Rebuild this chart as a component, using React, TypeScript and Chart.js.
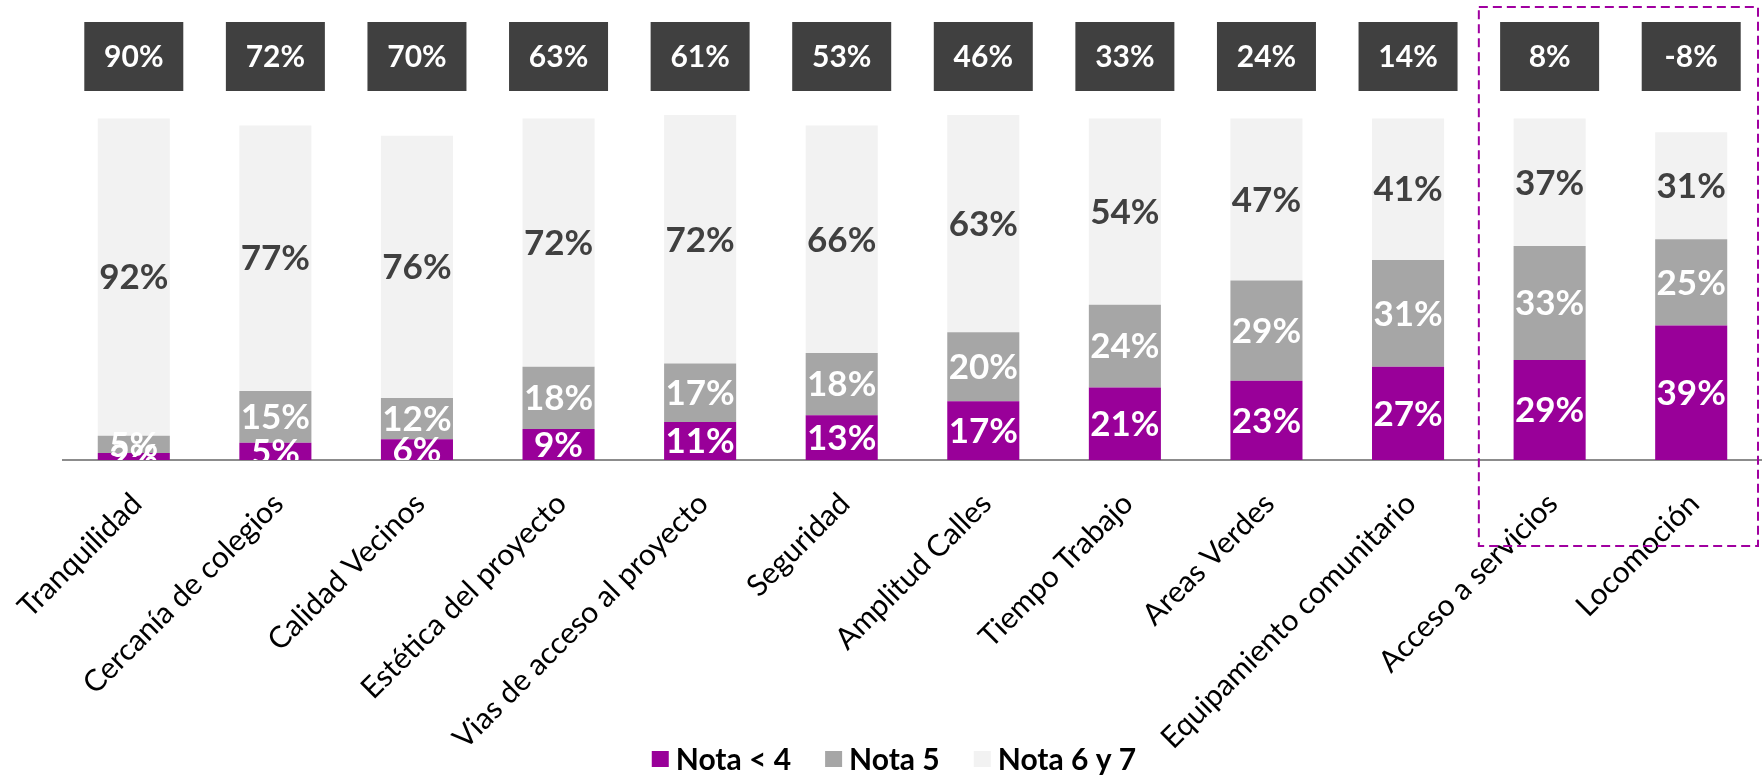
import React, { useEffect, useRef } from "react";
import { Chart, registerables } from "chart.js";

Chart.register(...registerables);

const categories = [
  "Tranquilidad",
  "Cercanía de colegios",
  "Calidad Vecinos",
  "Estética del proyecto",
  "Vias de acceso al proyecto",
  "Seguridad",
  "Amplitud Calles",
  "Tiempo Trabajo",
  "Areas Verdes",
  "Equipamiento comunitario",
  "Acceso a servicios",
  "Locomoción",
];
const nota4 = [2, 5, 6, 9, 11, 13, 17, 21, 23, 27, 29, 39];
const nota5 = [5, 15, 12, 18, 17, 18, 20, 24, 29, 31, 33, 25];
const nota67 = [92, 77, 76, 72, 72, 66, 63, 54, 47, 41, 37, 31];
const netScore = [90, 72, 70, 63, 61, 53, 46, 33, 24, 14, 8, -8];
const seriesNames = ["Nota < 4", "Nota 5", "Nota 6 y 7"];
const highlightFrom = 10;
const highlightTo = 11;

const COLORS = ["#990099", "#A6A6A6", "#F2F2F2"];
const LABEL_COLORS = ["#FFFFFF", "#FFFFFF", "#404040"];
const FONT = "Lato, 'Open Sans', sans-serif";

const overlayPlugin = {
  id: "overlay",
  afterDatasetsDraw(chart: any) {
    const { ctx, chartArea } = chart;
    // segment value labels (clipped at the axis)
    ctx.save();
    ctx.beginPath();
    ctx.rect(chartArea.left, 0, chartArea.right - chartArea.left, chartArea.bottom);
    ctx.clip();
    ctx.font = `bold 35px ${FONT}`;
    ctx.textAlign = "center";
    ctx.textBaseline = "middle";
    chart.data.datasets.forEach((ds: any, di: number) => {
      const meta = chart.getDatasetMeta(di);
      meta.data.forEach((bar: any, i: number) => {
        const { x, y, base } = bar.getProps(["x", "y", "base"], true);
        ctx.fillStyle = LABEL_COLORS[di];
        ctx.fillText(`${ds.data[i]}%`, x, (y + base) / 2 + 1);
      });
    });
    ctx.restore();

    // net score boxes
    const xs = chart.scales.x;
    ctx.save();
    ctx.font = `bold 30px ${FONT}`;
    ctx.textAlign = "center";
    ctx.textBaseline = "middle";
    const boxW = 99;
    const boxH = 69;
    const boxTop = chartArea.top + 7;
    netScore.forEach((v, i) => {
      const cx = xs.getPixelForValue(i);
      ctx.fillStyle = "#404040";
      ctx.fillRect(cx - boxW / 2, boxTop, boxW, boxH);
      ctx.fillStyle = "#FFFFFF";
      ctx.fillText(`${v}%`, cx, boxTop + boxH / 2 + 1);
    });
    ctx.restore();

    // dashed highlight rectangle
    const catW = xs.getPixelForValue(1) - xs.getPixelForValue(0);
    const left = xs.getPixelForValue(highlightFrom) - catW / 2;
    const right = Math.min(xs.getPixelForValue(highlightTo) + catW / 2, chartArea.right) - 4;
    ctx.save();
    ctx.strokeStyle = "#A000A0";
    ctx.lineWidth = 2;
    ctx.setLineDash([9, 5]);
    ctx.strokeRect(left, chartArea.top - 8, right - left, chartArea.bottom + 86 - (chartArea.top - 8));
    ctx.restore();
  },
  afterDraw(chart: any) {
    const { ctx } = chart;
    ctx.save();
    ctx.font = `bold 30px ${FONT}`;
    ctx.textBaseline = "middle";
    ctx.textAlign = "left";
    const box = 17;
    const gapText = 7;
    const gapItem = 34;
    const widths = seriesNames.map((n) => box + gapText + ctx.measureText(n).width);
    const total = widths.reduce((a, b) => a + b, 0) + gapItem * (seriesNames.length - 1);
    let x = 894 - total / 2;
    const cy = 759;
    seriesNames.forEach((n, i) => {
      ctx.fillStyle = COLORS[i];
      ctx.fillRect(x, cy - 8, box, 16);
      ctx.fillStyle = "#000000";
      ctx.fillText(n, x + box + gapText, cy + 1);
      x += widths[i] + gapItem;
    });
    ctx.restore();
  },
};

export default function App() {
  const canvasRef = useRef<HTMLCanvasElement | null>(null);

  useEffect(() => {
    document.body.style.margin = "0";
    const canvas = canvasRef.current;
    if (!canvas) return;
    const chart = new Chart(canvas, {
      type: "bar",
      data: {
        labels: categories,
        datasets: [nota4, nota5, nota67].map((d, i) => ({
          label: seriesNames[i],
          data: d,
          backgroundColor: COLORS[i],
          borderWidth: 0,
          categoryPercentage: 1,
          barPercentage: 0.509,
        })),
      },
      options: {
        responsive: false,
        animation: false,
        layout: { padding: { top: 15, left: 63, right: 0, bottom: 0 } },
        plugins: {
          legend: { display: false },
          tooltip: { enabled: false },
        },
        scales: {
          x: {
            stacked: true,
            grid: { display: false, drawTicks: false },
            border: { display: true, color: "#8C8C8C", width: 2 },
            ticks: {
              autoSkip: false,
              minRotation: 45,
              maxRotation: 45,
              padding: 26,
              labelOffset: 3,
              color: "#000000",
              font: { family: FONT, size: 30 },
            },
            afterFit: (scale: any) => {
              scale.height = 775 - 460;
              scale.paddingLeft = 0;
              scale.paddingRight = 0;
            },
          },
          y: {
            stacked: true,
            display: false,
            min: 0,
            max: 129,
          },
        },
      },
      plugins: [overlayPlugin],
    });
    return () => chart.destroy();
  }, []);

  return (
    <div style={{ width: 1762, height: 775 }}>
      <canvas ref={canvasRef} width={1762} height={775} style={{ display: "block" }} />
    </div>
  );
}
